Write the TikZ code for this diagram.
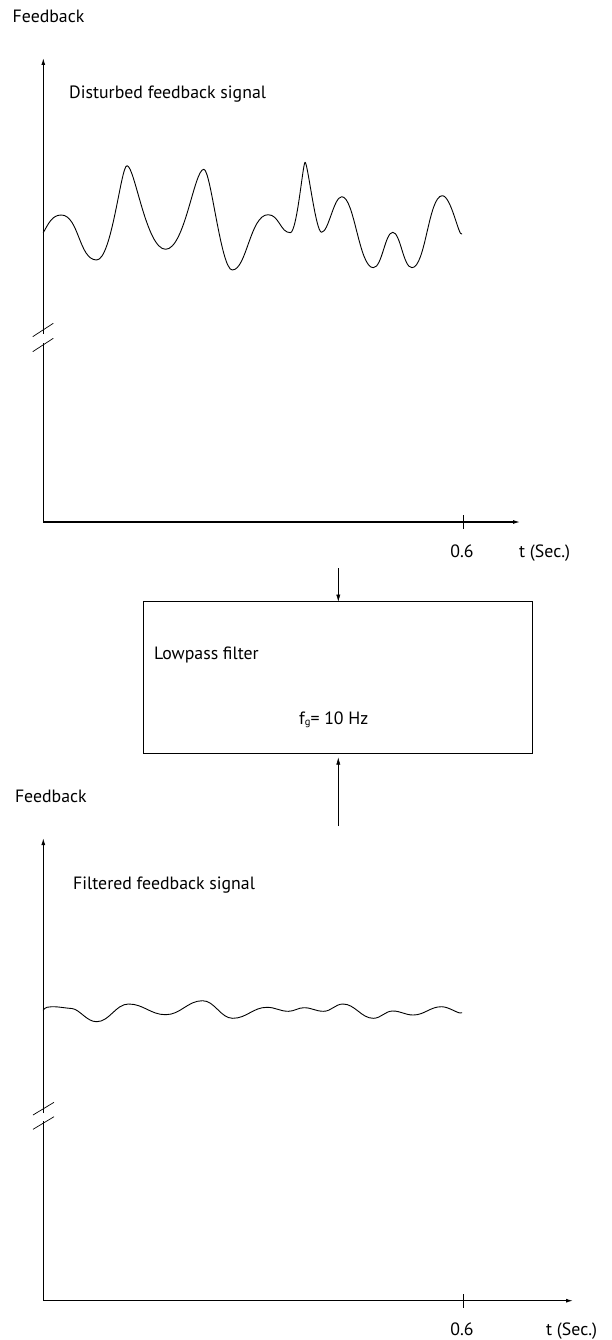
\documentclass[tikz,border=0pt]{standalone}
\usepackage{fontspec}
\setmainfont{PT Sans}
\usetikzlibrary{arrows.meta}
\begin{document}
\begin{tikzpicture}[x=1pt,y=-1pt,
  axis/.style={line width=1.1pt},
  sig/.style={line width=0.9pt,line join=round,line cap=round},
  brk/.style={line width=0.7pt},
  tickmark/.style={line width=0.7pt},
  lbl/.style={font=\fontsize{17.8}{21}\selectfont,inner sep=0pt},
  tipped/.style={-{Latex[length=7pt,width=4pt]}},
  filterbox/.style={draw,line width=0.9pt,inner sep=0pt,outer sep=0pt,minimum width=389pt,minimum height=151.6pt}
]
\useasboundingbox (0,0) rectangle (611,1340);

% ---------- top chart ----------
\node[lbl,anchor=base west] (fbA) at (12.5,23) {Feedback};
\node[lbl,anchor=base west] (distA) at (69,99) {Disturbed feedback signal};
\coordinate (oA) at (43.3,522);
\coordinate (yA) at (43.3,58);
\coordinate (xA) at (520,522);
\coordinate (gapAt) at (43.3,334);
\coordinate (gapAb) at (43.3,343);
\draw[axis,tipped] (gapAt) -- (yA);
\draw[axis,tipped] (gapAb) -- (oA) -- (xA);
\draw[brk] (32.7,336.7) -- (53.3,323.3);
\draw[brk] (32.7,351.7) -- (53.3,338.3);
\draw[tickmark] (463,515) -- (463,529);
\node[lbl,anchor=base] (sixA) at (462,557) {0.6};
\node[lbl,anchor=base west] (tA) at (519,557) {t (Sec.)};

\draw[sig] (43.3,232.7) .. controls +(5,-9) and +(-9,0) .. (61.2,215)
 .. controls +(17.7,0) and +(-17.7,0) .. (96.6,260)
 .. controls +(15.2,0) and +(-6.1,0) .. (127,165.7)
 .. controls +(7.7,0) and +(-19.3,0) .. (165.6,249.3)
 .. controls +(19.1,0) and +(-9.6,0) .. (203.8,169.3)
 .. controls +(7.1,0) and +(-11.4,0) .. (232.3,270)
 .. controls +(14.3,0) and +(-17.9,0) .. (268.1,214.7)
 .. controls +(11.1,0) and +(-10,0) .. (290.3,232.7)
 .. controls +(6.7,0) and +(-2.2,0) .. (305.1,162.3)
 .. controls +(2.5,0) and +(-5.7,0) .. (321.5,232.3)
 .. controls +(7.1,0) and +(-8.1,0) .. (341.8,196.7)
 .. controls +(12.6,0) and +(-14.2,0) .. (373.3,267.7)
 .. controls +(8.8,0) and +(-7.8,0) .. (392.8,232.3)
 .. controls +(7.6,0) and +(-8.6,0) .. (411.9,267.7)
 .. controls +(13.7,0) and +(-13.7,0) .. (442.3,195.7)
 .. controls +(8.8,0) and +(-3,3) .. (461.8,234);

% ---------- filter ----------
\node[filterbox,anchor=north west] (box) at (143.8,601.7) {};
\node[lbl,anchor=base west] (lp) at (154,659.5) {Lowpass filter};
\node[lbl,anchor=base west] (fg) at (299,724) {f\raisebox{-1pt}{\fontsize{10.5}{10.5}\selectfont g}= 10 Hz};
\coordinate (inA) at (338.3,568);
\draw[tipped] (inA) -- (inA |- box.north);
\coordinate (inB) at (338.3,826);
\coordinate (inBt) at (338.3,757.5);
\draw[tipped] (inB) -- (inBt);

% ---------- bottom chart ----------
\node[lbl,anchor=base west] (fbB) at (14.8,802) {Feedback};
\node[lbl,anchor=base west] (filtB) at (73,889) {Filtered feedback signal};
\coordinate (oB) at (43.3,1300.7);
\coordinate (yB) at (43.3,838);
\coordinate (xB) at (573,1300.7);
\coordinate (gapBt) at (43.3,1113);
\coordinate (gapBb) at (43.3,1121);
\draw[axis,tipped] (gapBt) -- (yB);
\draw[axis,tipped] (gapBb) -- (oB) -- (xB);
\draw[brk] (33,1115) -- (54,1102.3);
\draw[brk] (33,1129.3) -- (54,1116.7);
\draw[tickmark] (463,1294) -- (463,1308);
\node[lbl,anchor=base] (sixB) at (462,1335) {0.6};
\node[lbl,anchor=base west] (tB) at (546,1335) {t (Sec.)};

\draw[sig] (43.3,1010) .. controls +(2,-3) and +(-3,0) .. (52,1006.7)
 .. controls +(8,0) and +(-8,-0.5) .. (72,1008.5)
 .. controls +(8,1) and +(-10,0) .. (96.6,1021.7)
 .. controls +(13,0) and +(-13,0) .. (128.6,1004)
 .. controls +(15,0) and +(-15,0) .. (165.6,1014.7)
 .. controls +(15,0) and +(-15,0) .. (202.6,1000.7)
 .. controls +(12,0) and +(-12,0) .. (232.7,1018.3)
 .. controls +(14,0) and +(-14,0) .. (267,1007.3)
 .. controls +(8.5,0) and +(-8.5,0) .. (288.4,1011.3)
 .. controls +(6.2,0) and +(-6.2,0) .. (304,1007.7)
 .. controls +(7.8,0) and +(-7.8,0) .. (323.5,1011.3)
 .. controls +(7.8,0) and +(-7.8,0) .. (343,1004)
 .. controls +(12,0) and +(-12,0) .. (373.3,1018.3)
 .. controls +(7.8,0) and +(-7.8,0) .. (392.8,1011)
 .. controls +(8,0) and +(-8,0) .. (413.1,1015)
 .. controls +(11.4,0) and +(-11.4,0) .. (441.5,1006.7)
 .. controls +(8,0) and +(-3,2) .. (461.8,1012.7);
\end{tikzpicture}
\end{document}
